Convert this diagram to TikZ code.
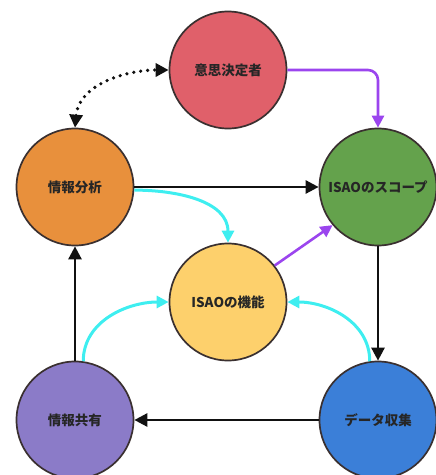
\documentclass[tikz,border=0pt]{standalone}
\usepackage{fontspec}
\newfontfamily\cjk{Noto Sans CJK JP}
\usetikzlibrary{arrows.meta}
\definecolor{cRed}{HTML}{E0606A}
\definecolor{cOrange}{HTML}{E8903C}
\definecolor{cGreen}{HTML}{64A24C}
\definecolor{cYellow}{HTML}{FDD06C}
\definecolor{cPurple}{HTML}{8B7BC8}
\definecolor{cBlue}{HTML}{3B7FD8}
\definecolor{cLine}{HTML}{111111}
\definecolor{cCyan}{HTML}{3EEEF0}
\definecolor{cViolet}{HTML}{9B45EE}
\definecolor{cEdge}{HTML}{3A3030}
\tikzset{
  ball/.style={circle, draw=cEdge, line width=1.7pt, minimum size=117pt, inner sep=0pt,
    font=\cjk\bfseries\fontsize{13.5}{15}\selectfont, text=black!85},
  blk/.style={draw=cLine, line width=2.6pt, -{Triangle[length=13pt,width=13pt]}},
  cyn/.style={draw=cCyan, line width=3pt, -{Triangle[length=12pt,width=12pt]}},
  vio/.style={draw=cViolet, line width=2.6pt, -{Triangle[length=12pt,width=12pt]}},
}
\begin{document}
\begin{tikzpicture}[x=1pt,y=-1pt]
\useasboundingbox (0,0) rectangle (436,475);
\node[ball, fill=cRed]    (dm)  at (228,70)  {意思決定者};
\node[ball, fill=cOrange] (ana) at (75,187)  {情報分析};
\node[ball, fill=cGreen]  (sc)  at (378,187) {ISAOのスコープ};
\node[ball, fill=cYellow] (fn)  at (228,302) {ISAOの機能};
\node[ball, fill=cPurple] (sh)  at (75,420)  {情報共有};
\node[ball, fill=cBlue]   (dc)  at (378,420) {データ収集};
\draw[cLine, line width=3.6pt, dash pattern=on 0pt off 7pt, line cap=round,
  {Triangle[length=13pt,width=13pt]}-{Triangle[length=13pt,width=13pt]}]
  (ana.north) to[out=85,in=180] (dm.west);
\draw[vio, rounded corners=10pt] (dm.east) -| (sc.north);
\draw[blk] (ana.east) -- (sc.west);
\draw[cyn] (ana.-3) to[out=0,in=90] (fn.north);
\draw[vio] (fn.38) -- (sc.220);
\draw[blk] (sc.south) -- (dc.north);
\draw[blk] (dc.west) -- (sh.east);
\draw[blk] (sh.north) -- (ana.south);
\draw[cyn] (sh.82) to[out=90,in=180] (fn.west);
\draw[cyn] (dc.98) to[out=90,in=0] (fn.east);
\end{tikzpicture}
\end{document}
